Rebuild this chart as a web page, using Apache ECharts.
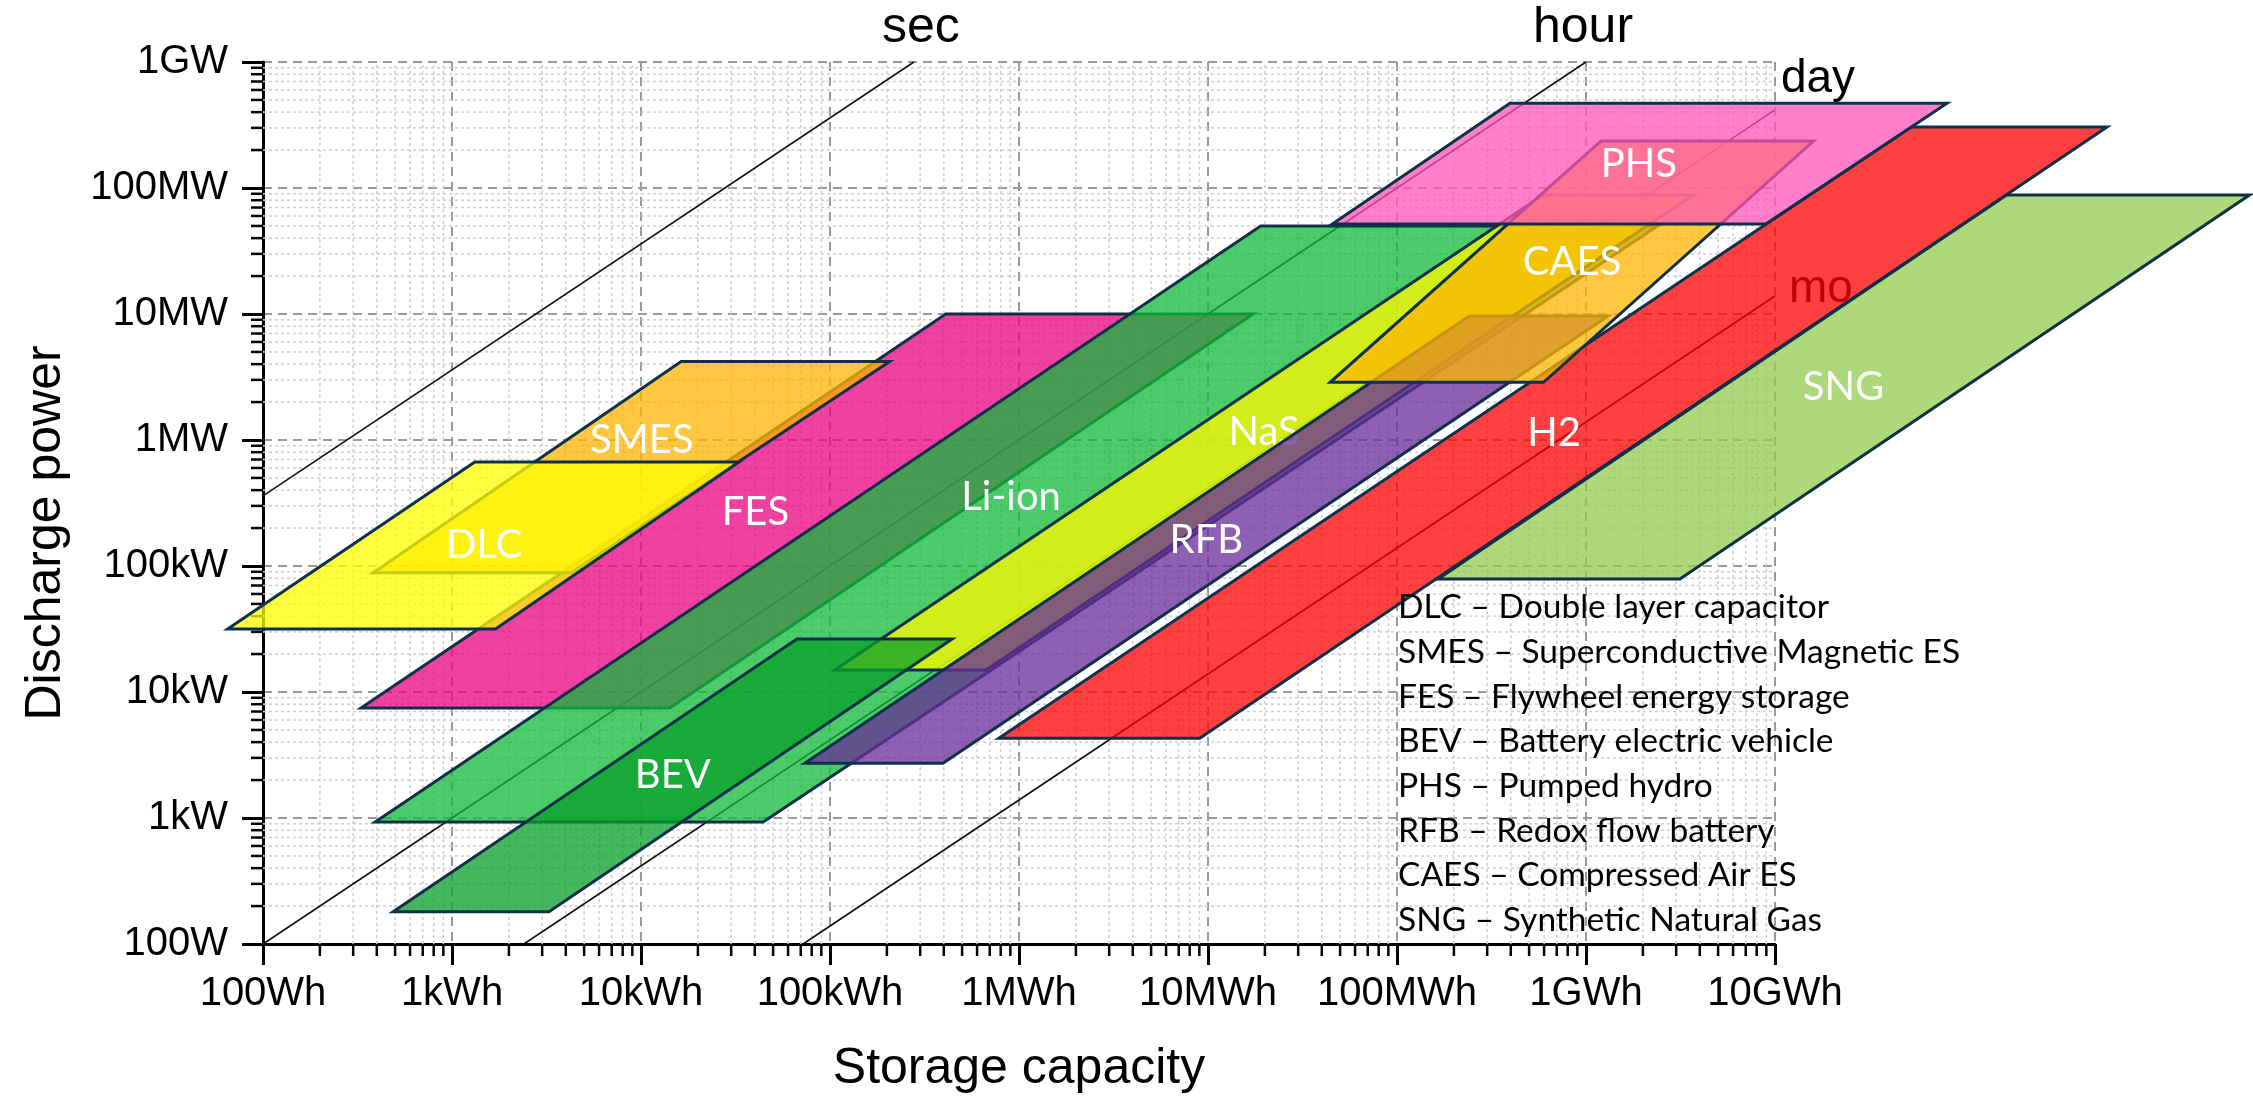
<!DOCTYPE html>
<html><head><meta charset="utf-8">
<script src="https://cdn.jsdelivr.net/npm/echarts@6/dist/echarts.min.js"></script>
<style>html,body{margin:0;padding:0;background:#fff}#c{width:2253px;height:1102px}</style>
</head><body><div id="c"></div>
<script>
// ---- axis ticks ----
const xTickLabels = ['100Wh','1kWh','10kWh','100kWh','1MWh','10MWh','100MWh','1GWh','10GWh'];
const yTickLabels = ['100W','1kW','10kW','100kW','1MW','10MW','100MW','1GW'];
const xMin = 1e2, xMax = 1e10, yMin = 1e2, yMax = 1e9;

// ---- constant discharge-time lines (hours) ----
const timeLineNames = ['sec','hour','day','mo'];
const timeLineHours = [1/3600, 1, 24, 720];

// ---- technologies: corners [storage capacity Wh, discharge power W] (BL, BR, TR, TL) ----
const FES   = [[330, 7460], [14200, 7460], [1.73e7, 1e7], [4.1e5, 1e7]];
const SMES  = [[383, 88500], [4270, 88500], [2.07e5, 4.19e6], [16300, 4.19e6]];
const DLC   = [[65, 31600], [1700, 31600], [33000, 6.7e5], [1320, 6.7e5]];
const LiIon = [[392, 930], [44300, 930], [2.39e9, 5.0e7], [1.9e7, 5.0e7]];
const NaS   = [[1.06e5, 14960], [6.68e5, 14960], [3.68e9, 8.79e7], [5.92e8, 8.79e7]];
const BEV   = [[488, 180], [3260, 180], [4.43e5, 26360], [66800, 26360]];
const RFB   = [[73500, 2716], [3.96e5, 2716], [1.31e9, 9.64e6], [2.42e8, 9.64e6]];
const H2    = [[7.82e5, 4295], [9.04e6, 4295], [5.71e11, 3.05e8], [5.25e10, 3.05e8]];
const SNG   = [[1.65e8, 78900], [3.14e9, 78900], [3.24e12, 8.79e7], [1.68e11, 8.79e7]];
const CAES  = [[4.43e7, 2.87e6], [5.96e8, 2.87e6], [1.6e10, 2.36e8], [1.2e9, 2.36e8]];
const PHS   = [[4.55e7, 5.18e7], [8.95e9, 5.18e7], [8.13e10, 4.7e8], [3.96e8, 4.7e8]];

const techNames = ['FES','SMES','DLC','Li-ion','NaS','BEV','RFB','H2','SNG','CAES','PHS'];
const techShapes = [FES, SMES, DLC, LiIon, NaS, BEV, RFB, H2, SNG, CAES, PHS];

const legendLines = [
  'DLC \u2013 Double layer capacitor',
  'SMES \u2013 Superconductive Magnetic ES',
  'FES \u2013 Flywheel energy storage',
  'BEV \u2013 Battery electric vehicle',
  'PHS \u2013 Pumped hydro',
  'RFB \u2013 Redox flow battery',
  'CAES \u2013 Compressed Air ES',
  'SNG \u2013 Synthetic Natural Gas'
];

// ---- styles ----
const techColors = {
  'FES':'rgba(235,0,128,0.75)', 'SMES':'rgba(255,182,0,0.75)', 'DLC':'rgba(255,255,0,0.75)',
  'Li-ion':'rgba(16,186,56,0.75)', 'NaS':'rgba(255,250,0,0.75)', 'BEV':'rgba(7,160,42,0.75)',
  'RFB':'rgba(104,43,155,0.75)', 'H2':'rgba(255,0,0,0.75)', 'SNG':'rgba(146,204,79,0.75)',
  'CAES':'rgba(255,182,0,0.75)', 'PHS':'rgba(255,86,182,0.75)'
};
const labelOffset = { 'SMES':[13,-27], 'FES':[-52,1], 'Li-ion':[-3,-27] };
const timeLabelOffset = { 'sec':[7,-34], 'hour':[-3,-34], 'day':[43,-31], 'mo':[46,-7] };
const timeLabelSize = { 'sec':50, 'hour':50, 'day':46, 'mo':46 };
const borderColor = '#10304A';

// minor grid values (2..9 within each decade)
const xMinor = [], yMinor = [];
for (let d = 2; d < 10; d++) for (let k = 2; k <= 9; k++) xMinor.push(k * Math.pow(10, d));
for (let d = 2; d < 9; d++) for (let k = 2; k <= 9; k++) yMinor.push(k * Math.pow(10, d));

// time-line end points
const timeLines = timeLineHours.map(h => {
  const e0 = Math.max(xMin, yMin * h), e1 = Math.min(xMax, yMax * h);
  return [[e0, e0 / h], [e1, e1 / h]];
});

const chart = echarts.init(document.getElementById('c'), null, {renderer:'canvas'});
const labelFont = 'Liberation Sans';

chart.setOption({
  animation: false,
  grid: {left: 263, top: 62, width: 1512, height: 882, containLabel: false},
  xAxis: {
    type: 'log', logBase: 10, min: xMin, max: xMax, splitNumber: 8,
    name: 'Storage capacity', nameLocation: 'middle', nameGap: 100,
    nameTextStyle: {fontSize: 50, fontFamily: labelFont, color: '#000'},
    axisLine: {show: true, onZero: false, lineStyle: {color: '#000', width: 3}},
    axisTick: {show: true, length: 21, lineStyle: {color: '#000', width: 3}},
    axisLabel: {fontSize: 40, fontFamily: labelFont, color: '#000', margin: 30,
      formatter: v => xTickLabels[Math.round(Math.log10(v)) - 2]},
    splitLine: {show: true, lineStyle: {color: '#9a9a9a', width: 2, type: [9, 6]}}
  },
  yAxis: {
    type: 'log', logBase: 10, min: yMin, max: yMax, splitNumber: 7,
    name: 'Discharge power', nameLocation: 'middle', nameGap: 192, nameRotate: 90,
    nameTextStyle: {fontSize: 50, fontFamily: labelFont, color: '#000', padding: [0, 60, 0, 0]},
    axisLine: {show: true, onZero: false, lineStyle: {color: '#000', width: 3}},
    axisTick: {show: true, length: 21, lineStyle: {color: '#000', width: 3}},
    axisLabel: {fontSize: 40, fontFamily: labelFont, color: '#000', margin: 35,
      formatter: v => yTickLabels[Math.round(Math.log10(v)) - 2]},
    splitLine: {show: true, lineStyle: {color: '#9a9a9a', width: 2, type: [9, 6]}}
  },
  graphic: [{
    type: 'text', left: 1398, top: 585, z: 100,
    style: {text: legendLines.join('\n'), font: '33.5px Lato', fill: '#000', lineHeight: 44.7}
  }],
  series: [
    { // minor vertical grid + minor x ticks
      type: 'custom', coordinateSystem: 'cartesian2d', z: 1, clip: false, silent: true,
      data: xMinor.map(v => [v, yMin]),
      renderItem: (params, api) => {
        const v = api.value(0);
        const b = api.coord([v, yMin]), t = api.coord([v, yMax]);
        return {type: 'group', children: [
          {type: 'line', shape: {x1: b[0], y1: b[1], x2: t[0], y2: t[1]},
           style: {stroke: '#cfcfcf', lineWidth: 1.5, lineDash: [3, 3]}},
          {type: 'line', shape: {x1: b[0], y1: b[1], x2: b[0], y2: b[1] + 12},
           style: {stroke: '#000', lineWidth: 2.5}}
        ]};
      }
    },
    { // minor horizontal grid + minor y ticks
      type: 'custom', coordinateSystem: 'cartesian2d', z: 1, clip: false, silent: true,
      data: yMinor.map(v => [xMin, v]),
      renderItem: (params, api) => {
        const v = api.value(1);
        const l = api.coord([xMin, v]), r = api.coord([xMax, v]);
        return {type: 'group', children: [
          {type: 'line', shape: {x1: l[0], y1: l[1], x2: r[0], y2: r[1]},
           style: {stroke: '#cfcfcf', lineWidth: 1.5, lineDash: [3, 3]}},
          {type: 'line', shape: {x1: l[0] - 12, y1: l[1], x2: l[0], y2: l[1]},
           style: {stroke: '#000', lineWidth: 2.5}}
        ]};
      }
    },
    { // constant discharge time lines
      type: 'custom', coordinateSystem: 'cartesian2d', z: 2, clip: false, silent: true,
      data: timeLines.map(l => l[1]),
      renderItem: (params, api) => {
        const i = params.dataIndex, name = timeLineNames[i];
        const a = api.coord(timeLines[i][0]), b = api.coord(timeLines[i][1]);
        const off = timeLabelOffset[name];
        return {type: 'group', children: [
          {type: 'line', shape: {x1: a[0], y1: a[1], x2: b[0], y2: b[1]},
           style: {stroke: '#111', lineWidth: 1.6}},
          {type: 'text', x: b[0] + off[0], y: b[1] + off[1],
           style: {text: name, fill: '#000', font: timeLabelSize[name] + 'px ' + labelFont,
                   align: 'center', verticalAlign: 'middle'}}
        ]};
      }
    },
    { // technology areas
      type: 'custom', coordinateSystem: 'cartesian2d', z: 3, clip: false, silent: true,
      data: techShapes.map(s => s[0]),
      renderItem: (params, api) => {
        const i = params.dataIndex, name = techNames[i];
        const pts = techShapes[i].map(c => api.coord(c));
        let cx = 0, cy = 0;
        pts.forEach(p => { cx += p[0] / pts.length; cy += p[1] / pts.length; });
        const off = labelOffset[name] || [0, 0];
        return {type: 'group', children: [
          {type: 'polygon', shape: {points: pts},
           style: {fill: techColors[name], stroke: borderColor, lineWidth: 3, lineJoin: 'miter'}},
          {type: 'text', x: cx + off[0], y: cy + off[1],
           style: {text: name, fill: '#fff', font: '40px Lato', align: 'center', verticalAlign: 'middle'}}
        ]};
      }
    }
  ]
});
</script></body></html>
